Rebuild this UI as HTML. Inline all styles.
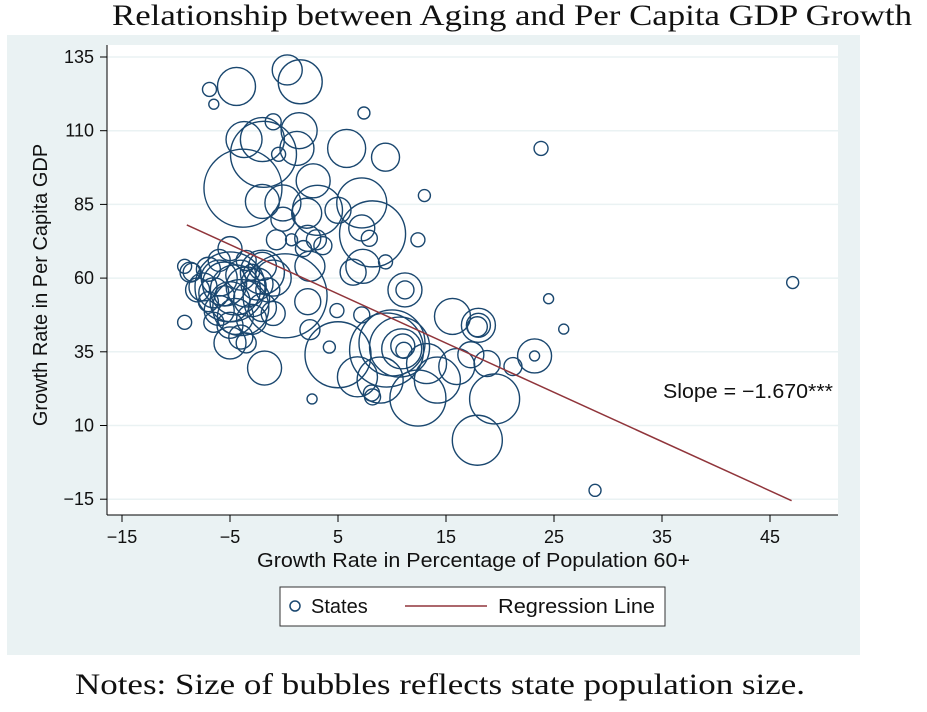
<!DOCTYPE html>
<html><head><meta charset="utf-8"><style>
body{margin:0;background:#fff;}
svg text{font-family:"Liberation Sans",sans-serif;}
</style></head><body>
<svg width="927" height="707" xmlns="http://www.w3.org/2000/svg">
<text x="112" y="25" textLength="800" lengthAdjust="spacingAndGlyphs" style="font-family:'Liberation Serif',serif;font-size:30px" fill="#111">Relationship between Aging and Per Capita GDP Growth</text>
<rect x="7" y="35" width="853" height="620" fill="#eaf2f3"/>
<rect x="107" y="45" width="731" height="470" fill="#fff"/>
<g id="grid"></g>
<g id="bubbles"></g>
<g id="axes"></g>
<text x="663" y="398" textLength="170" lengthAdjust="spacingAndGlyphs" font-size="20" fill="#111">Slope = −1.670***</text>
<text transform="translate(47,285) rotate(-90)" text-anchor="middle" font-size="20" fill="#111">Growth Rate in Per Capita GDP</text>
<text x="257" y="567" textLength="433" lengthAdjust="spacingAndGlyphs" font-size="20" fill="#111">Growth Rate in Percentage of Population 60+</text>
<g>
<rect x="280" y="587" width="385" height="39" fill="#fff" stroke="#333" stroke-width="1"/>
<circle cx="295" cy="606" r="5" fill="none" stroke="#1a476f" stroke-width="1.5"/>
<text x="311" y="613" font-size="20" fill="#111">States</text>
<line x1="405" y1="606" x2="487" y2="606" stroke="#90353b" stroke-width="1.5"/>
<text x="498" y="613" textLength="157" lengthAdjust="spacingAndGlyphs" font-size="20" fill="#111">Regression Line</text>
</g>
<text x="75" y="694" textLength="730" lengthAdjust="spacingAndGlyphs" style="font-family:'Liberation Serif',serif;font-size:30px" fill="#111">Notes: Size of bubbles reflects state population size.</text>
</svg>
<script>
const xs=[0.3,1.5,-4.4,-6.9,-6.5,7.4,1.4,-3.7,-2.0,-1.9,1.2,-1.0,5.8,9.4,-0.5,-3.8,2.7,-2.0,-0.1,3.1,7.2,5.0,13,2.1,-0.1,8.2,7.2,7.9,12.4,2.2,0.7,1.8,3,3.6,-0.7,2.4,7.3,9.4,6.4,0.1,-9.2,-8.7,-9.2,-1.8,2.6,4.2,5,2.2,2.4,4.9,7.2,11.2,11.2,10.7,10.9,11,11.1,12.4,10,8.2,15.6,17.9,17.9,24.5,25.9,23.2,23.2,21.2,19.5,18,18,17.3,14.2,8.1,6.8,18.8,16,13.2,8.9,9.5,23.8,47.1,28.8,
-7,-6,-5.5,-4.5,-3.5,-5,-6.5,-7.5,-4,-3,-2.5,-6,-4.5,-3,-5,-4,-5,-2,-1.5,-7,-8,-6,-5,-3.5,-2,-1,-4,-5.5,-3,-6.5,-3.5,-8.5,-1,-5,-2];
const ys=[130.6,126.6,125,124,119,116,110,107,107,102,104,113,104,101,102,90.5,93,86,85.5,83,85.5,83,88,82,80,75,77,73.5,73,73.5,73,70,73,71,73,64,64,65.5,62,54,64,62,45,29.5,19,36.6,34,52,42.5,49,47.5,56,56,36.6,36,37,35.5,19.3,38,19.7,47,5,43.5,53,42.7,33.6,33.6,30,19,44,44,34,25.4,21,26.5,31,30,31,25.4,35.6,104,58.5,-12,
63,60,58,56,57,52,55,57,61,53,58,49,47,46,44,40,38,50,56,52,56,66,70,66,64,60,50,54,62,45,38,62,48,57,62];
const sizes=[15,22,19,7,5,6,18,18,22,33,17,8,19,14,7,39,17,17,18,25,25,13,6,15,12,33,13,8,7,13,6,8,10,9,10,15,17,7,13,42,7,10,7,17,5,6,33,13,10,7,8,17,9,30,20,12,8,28,33,8,18,25,10,5,5,5,17,9,25,12,17,13,23,8,20,13,18,20,23,37,7,6,6,
12,18,22,25,20,20,15,14,15,18,16,15,18,15,13,12,16,14,12,10,12,11,12,10,14,18,28,10,8,10,10,9,12,35,22];
const xTicks=[-15,-5,5,15,25,35,45];
const yTicks=[135,110,85,60,35,10,-15];
const slope=-1.67, intercept=63, lineX=[-9,47];
const NS="http://www.w3.org/2000/svg";
const X=v=>122+(v+15)*10.8;
const Y=v=>57+(135-v)*2.948;
function mk(t,a,p){const e=document.createElementNS(NS,t);for(const k in a)e.setAttribute(k,a[k]);p.appendChild(e);return e;}
const grid=document.getElementById('grid'),bub=document.getElementById('bubbles'),ax=document.getElementById('axes');
yTicks.forEach(v=>{const g=mk('line',{x1:107,x2:838,y1:Y(v),y2:Y(v),stroke:'#eaf2f3','stroke-width':1.5},grid);

});
for(let i=0;i<xs.length;i++){const c=mk('circle',{cx:X(xs[i]),cy:Y(ys[i]),r:sizes[i],fill:'none',stroke:'#1a476f','stroke-width':1.4},bub);

}
const rl=mk('line',{x1:X(lineX[0]),y1:Y(intercept+slope*lineX[0]),x2:X(lineX[1]),y2:Y(intercept+slope*lineX[1]),stroke:'#90353b','stroke-width':1.5},bub);


mk('line',{x1:107,x2:107,y1:45,y2:515,stroke:'#000','stroke-width':1},ax);
mk('line',{x1:107,x2:838,y1:515,y2:515,stroke:'#000','stroke-width':1},ax);
yTicks.forEach(v=>{mk('line',{x1:100,x2:107,y1:Y(v),y2:Y(v),stroke:'#000'},ax);
const t=mk('text',{x:94,y:Y(v)+6,'text-anchor':'end','font-size':18,fill:'#111'},ax);t.textContent=v<0?'−'+(-v):v;

});
xTicks.forEach(v=>{mk('line',{x1:X(v),x2:X(v),y1:515,y2:522,stroke:'#000'},ax);
const t=mk('text',{x:X(v),y:543,'text-anchor':'middle','font-size':18,fill:'#111'},ax);t.textContent=v<0?'−'+(-v):v;

});
</script>
</body></html>
